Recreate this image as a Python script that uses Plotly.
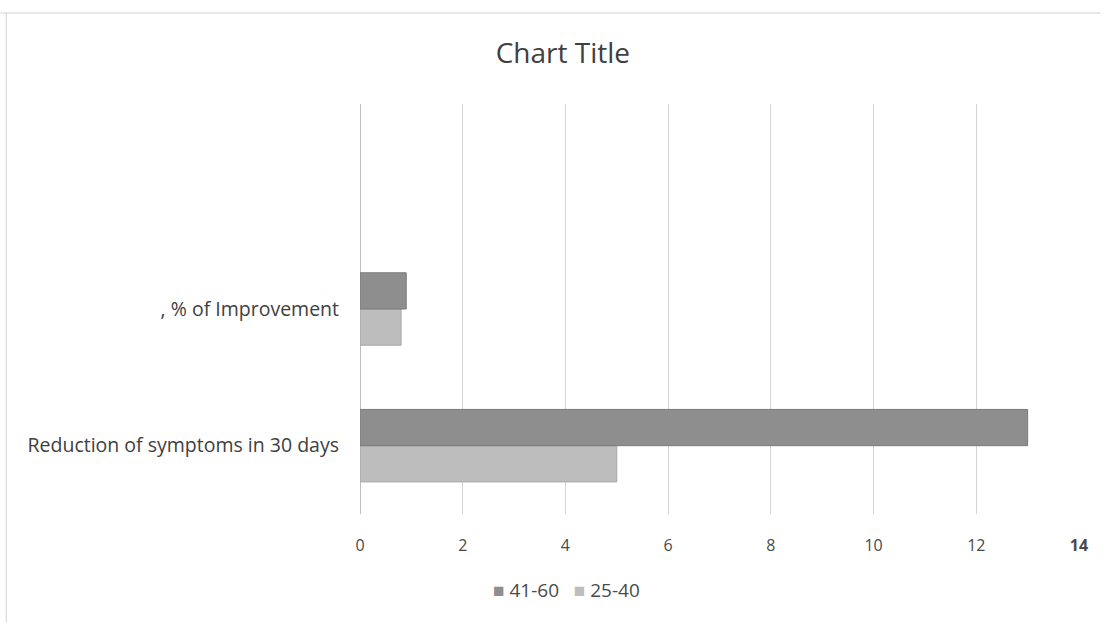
import plotly.graph_objects as go

# Categories (bottom to top) and series values
categories = ["Reduction of symptoms in 30 days", ", % of Improvement"]
age_25_40 = [5, 0.8]
age_41_60 = [13, 0.9]
x_ticks = [0, 2, 4, 6, 8, 10, 12, 14]
x_tick_labels = ["0", "2", "4", "6", "8", "10", "12", "<b>14</b>"]

FONT = "Open Sans, sans-serif"
TEXT = "#4a4a4a"
DARK = "#8e8e8e"
LIGHT = "#bdbdbd"

fig = go.Figure()
fig.add_trace(go.Bar(
    y=categories, x=age_25_40, name="25-40", orientation="h",
    marker=dict(color=LIGHT, line=dict(color="#a8a8a8", width=1)),
))
fig.add_trace(go.Bar(
    y=categories, x=age_41_60, name="41-60", orientation="h",
    marker=dict(color=DARK, line=dict(color="#7a7a7a", width=1)),
))

fig.update_layout(
    width=1108, height=622,
    margin=dict(l=360, r=29, t=104, b=108),
    paper_bgcolor="white", plot_bgcolor="white",
    barmode="group", bargap=0.47, bargroupgap=0,
    showlegend=False,
    title=dict(text="Chart Title", x=0.508, xanchor="center", y=0.915, yanchor="middle",
               font=dict(family=FONT, size=28, color="#404040")),
    font=dict(family=FONT, color=TEXT),
    xaxis=dict(range=[0, 14], tickvals=x_ticks, ticktext=x_tick_labels,
               showgrid=True, gridcolor="#d4d4d4", gridwidth=1,
               zeroline=True, zerolinecolor="#bfbfbf", zerolinewidth=1,
               showline=False, ticks="", tickfont=dict(size=16, color=TEXT),
               ticklabelstandoff=20),
    yaxis=dict(type="category", categoryorder="array", categoryarray=categories,
               range=[-0.5, 2.5], showgrid=False, zeroline=False, showline=False,
               ticks="", tickfont=dict(size=19.5, color="#404040"),
               ticklabelstandoff=20),
)

# Compact legend line below the axis
legend_text = (
    f"<span style='color:{DARK}'>■</span> 41-60"
    f"&nbsp;&nbsp;&nbsp;<span style='color:{LIGHT}'>■</span> 25-40"
)
fig.add_annotation(text=legend_text, xref="paper", yref="paper", x=0.287, y=-0.186,
                   xanchor="center", yanchor="middle", showarrow=False,
                   font=dict(family=FONT, size=19, color=TEXT))

# Faint page frame around the chart
fig.add_shape(type="line", xref="paper", yref="paper", x0=-0.5, x1=1.03, y0=1.222, y1=1.222,
              line=dict(color="#d0d0d0", width=1))
fig.add_shape(type="line", xref="paper", yref="paper", x0=-0.492, x1=-0.492, y0=-0.3, y1=1.222,
              line=dict(color="#d0d0d0", width=1))

fig.write_html("out.html")
